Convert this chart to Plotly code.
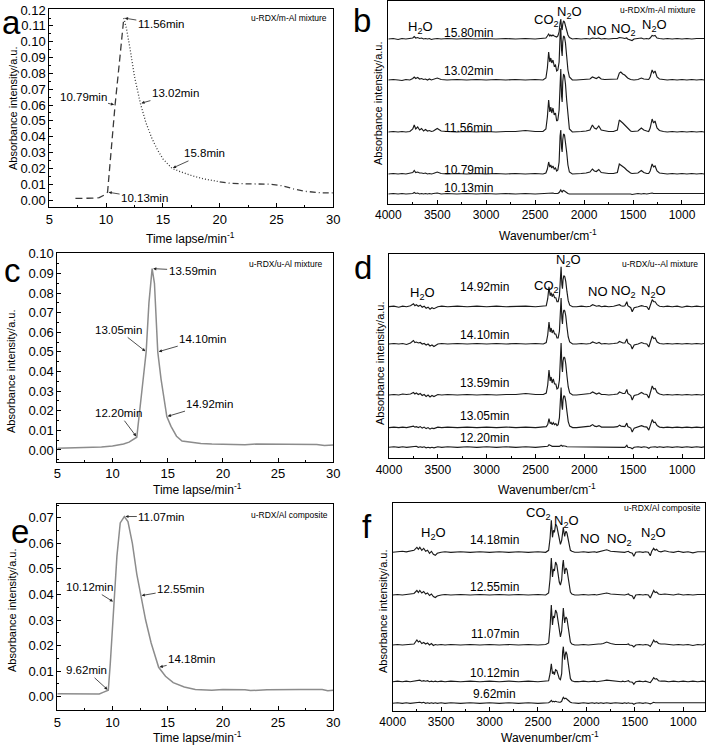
import plotly.graph_objects as go

W, H = 709, 749
FONT = "Liberation Sans, Arial, sans-serif"

# ---------------- data: evolved-gas intensity vs time ----------------
A_T = [7.3, 8.0, 8.8, 9.4, 9.8, 10.13, 10.45, 10.79, 11.2, 11.56,
       11.8, 12.1, 12.5, 13.02, 13.5, 14.0, 14.5, 15.0, 15.8, 16.5,
       17.5, 18.5, 20.0, 21.0, 22.5, 24.5, 25.5, 26.5, 27.5, 29.0, 30.0]
A_V = [0.0010, 0.0010, 0.0012, 0.0015, 0.0030, 0.0050, 0.0320, 0.0600, 0.0890, 0.1150,
       0.1080, 0.0960, 0.0780, 0.0610, 0.0490, 0.0395, 0.0320, 0.0260, 0.0200, 0.0180,
       0.0155, 0.0135, 0.0115, 0.0105, 0.0102, 0.0100, 0.0090, 0.0070, 0.0055, 0.0045, 0.0045]

C_T = [5, 7.5, 9, 10, 11, 11.5, 12.2, 12.6, 12.9, 13.05,
       13.3, 13.59, 13.8, 14.0, 14.1, 14.4, 14.92, 15.3, 15.8, 16.3,
       17, 18, 19, 20, 22, 23, 25, 27, 28.5, 29.2, 30]
C_V = [0.0008, 0.0010, 0.0015, 0.0020, 0.0030, 0.0040, 0.0065, 0.0270, 0.0430, 0.0500,
       0.0750, 0.0925, 0.0850, 0.0620, 0.0500, 0.0360, 0.0170, 0.0120, 0.0070, 0.0045,
       0.0040, 0.0033, 0.0030, 0.0028, 0.0027, 0.0030, 0.0030, 0.0030, 0.0028, 0.0023, 0.0025]

E_T = [5, 7, 8.8, 9.2, 9.62, 9.8, 10.0, 10.12, 10.4, 10.7,
       11.07, 11.4, 11.8, 12.2, 12.55, 13.0, 13.5, 14.18, 14.8, 15.5,
       16.5, 17.5, 19, 20, 22, 22.5, 24, 25, 27, 29, 29.5, 30]
E_V = [0.0012, 0.0012, 0.0011, 0.0018, 0.0025, 0.0130, 0.0280, 0.0370, 0.0550, 0.0680,
       0.0705, 0.0685, 0.0600, 0.0480, 0.0395, 0.0300, 0.0210, 0.0115, 0.0080, 0.0055,
       0.0038, 0.0028, 0.0025, 0.0028, 0.0027, 0.0024, 0.0027, 0.0028, 0.0028, 0.0028, 0.0023, 0.0025]

A_MARKS = ["10.13min", "10.79min", "11.56min", "13.02min", "15.8min"]
A_MARK_T = [10.13, 10.79, 11.56, 13.02, 15.8]
A_MARK_V = [0.0050, 0.0600, 0.1150, 0.0610, 0.0200]
C_MARKS = ["12.20min", "13.05min", "13.59min", "14.10min", "14.92min"]
C_MARK_T = [12.2, 13.05, 13.59, 14.1, 14.92]
C_MARK_V = [0.0065, 0.0500, 0.0925, 0.0500, 0.0170]
E_MARKS = ["9.62min", "10.12min", "11.07min", "12.55min", "14.18min"]
E_MARK_T = [9.62, 10.12, 11.07, 12.55, 14.18]
E_MARK_V = [0.0025, 0.0370, 0.0705, 0.0395, 0.0115]

# ---------------- data: FTIR spectra (wavenumber grid) ----------------
WN_HIGH = [4000, 3950, 3900, 3860, 3820, 3780, 3750, 3735, 3720, 3700, 3680, 3660, 3640, 3620, 3600,
           3580, 3560, 3540, 3500, 3460, 3400, 3300, 3200, 3100, 3000, 2900, 2800, 2700, 2600, 2500, 2420]
WN_BAND = [2390, 2375, 2362, 2350, 2340, 2330, 2318, 2305, 2292, 2280, 2268, 2255, 2245, 2238, 2230,
           2224, 2218, 2210, 2200, 2190, 2178, 2165, 2150, 2120]
WN_LOW = [2080, 2030, 1980, 1940, 1915, 1895, 1875, 1850, 1825, 1790, 1750, 1700, 1660, 1640, 1625,
          1605, 1585, 1565, 1555, 1525, 1510, 1490, 1450, 1415, 1390, 1360, 1340, 1325, 1305, 1290,
          1275, 1255, 1230, 1190, 1150, 1100, 1050, 1000, 950, 900, 850, 800, 775]
WN = WN_HIGH + WN_BAND + WN_LOW

# panel b (u-RDX/m-Al mixture): trace heights above each baseline
B_LABELS = ["15.80min", "13.02min", "11.56min", "10.79min", "10.13min"]
B_BASE = [165, 124, 72, 30, 10]
B_1580 = [0,0.5,-0.5,0.5,0,0.5,1,2.5,1,1.5,0.5,1,0,0.5,0,0.5,-0.5,0,0.5,0,0.5,0,0.5,0,0.5,0,0.5,0,0.5,0,0.5,
          1,3,5,3,4,3,4,3,2.5,2,3,7,16,20,11,9,15,18,17,13,8,4,1.5,0,
          0.5,0,0.5,0,1,0.5,0.5,1,0,0.5,0,0.5,0.5,1.5,1,1,0.5,1,0,-0.5,-1.5,0,0.5,1,0,0.5,0,1,3.5,3,3.5,1,0.5,0,0.5,0,0.5,0,0.5,0,0.5,0,0.5]
B_1302 = [0,0.5,0,-0.5,0.5,0,1.5,3,1.5,2.5,1,1.5,0.5,1,0,1,0,0.5,2,0.5,0,0.5,0,0.5,0,0.5,0,0.5,0,0.5,0,
          2,12,28,18,22,17,20,14,15,9,10,18,45,52,30,24,38,44,43,37,24,10,3,0,
          0,0.5,0.5,1,3,2,1.5,3,1,0.5,0.5,0.5,1,7,8,6,5,3,2,0.5,0,0,0.5,2,1,0.5,0.5,3,10,7,9,3,1,0.5,0,0.5,0,0.5,0,0.5,0,0.5,0]
B_1156 = [0,0.5,0,0.5,0,0.5,3,7,3,5,2,3.5,1,2.5,1,1.5,0.5,1,3.5,1,0.5,0,0.5,0,0.5,0,0.5,0.5,1.5,0.5,0.5,
          3,15,32,20,25,19,24,17,19,11,12,22,55,63,36,30,50,58,56,48,32,14,3,0,
          0,0.5,1,2,7,4,3,6,2,1,0.5,0.5,2,12,11,9,7,5,3,1,0.5,0.5,1,4,2,1,0.5,4,13,9,11,4,1.5,0.5,0,0.5,0,0.5,0,0.5,0,0.5,0]
B_1079 = [0,0.5,0,0.5,0,0.5,1.5,3.5,1.5,2,1,1,0.5,1,0,0.5,0,0.5,2,0.5,0,0.5,0,0.5,0,0.5,0,0.5,0,0.5,0,
          1,5,12,7,9,6,8,5,6,3,4,12,38,44,26,22,34,40,39,33,22,9,2,0,
          0,0.5,1,2,5,3,2.5,4.5,1.5,1,0.5,0.5,1.5,10,9,7,6,4,3,1,0.5,0.5,1,3.5,1.5,0.5,0.5,3,10,7,8,3,1,0.5,0,0.5,0,0.5,0,0.5,0,0.5,0]
B_1013 = [0,0.5,0,0.5,0,0.5,0.5,1.5,0.5,1,0,0.5,0,0.5,0,0.5,0,0.5,1,0,0.5,0,0.5,0,0.5,0,0.5,0,0.5,0,0.5,
          0.5,0.5,1,0.5,1,0.5,1,0.5,0.5,0.5,0.5,1.5,3.5,4,2.5,2,3,3.5,3,2,1,0.5,0,0,
          0,0.5,0,0.5,0.5,0.5,0,0.5,0,0.5,0,0.5,0,0.5,0.5,0.5,0,0.5,0,0,-0.5,0,0.5,0,0.5,0,0.5,0.5,1,0.5,0.5,0,0.5,0,0.5,0,0.5,0,0.5,0,0.5,0,0.5]
B_SPECTRA = [B_1580, B_1302, B_1156, B_1079, B_1013]

# panel d (u-RDX/u-Al mixture)
D_LABELS = ["14.92min", "14.10min", "13.59min", "13.05min", "12.20min"]
D_BASE = [151.6, 114.3, 63.3, 30.7, 11]
D_1492 = [0,0.5,-0.5,0.5,0,1,3,1,2,0.5,1.5,-0.5,0.5,-1.5,-0.5,-2.5,-1,-2,0,0.5,0,0.5,0,0.5,0,0.5,0,0.5,0.5,0,0.5,
          1,8,20,11,14,10,13,9,9,5,5,11,34,40,22,18,27,31,30,25,15,6,1.5,0,
          0,0.5,0,0.5,2,1,0.5,1,0,0.5,0,0.5,1,2,1,0.5,1,5,1,-1,-5,-1,0,1,0.5,0,-3,1,7,5,5,2,0.5,0,0.5,0,0.5,-0.5,0.5,0,0.5,0,0.5]
D_1410 = [0,0.5,0,0.5,-0.5,1,3.5,1.5,2,1,1.5,0,0.5,-1,0,-2,-1,-2.5,0,0.5,0,0.5,0,0.5,0,0.5,0,0.5,0,0.5,0,
          1.5,9,22,12,16,11,14,10,10,6,6,13,40,46,25,20,30,34,33,28,17,7,2,0,
          0,0.5,0,0.5,2,1,0.5,1.5,0,0.5,0,0.5,1,2.5,1.5,1,1,5,1,-1,-5,-1,0,1.5,0.5,0,-3,1,8,5.5,6,2,0.5,0,0.5,0,0.5,0,0.5,0,0.5,0,0.5]
D_1359 = [0,0.5,0,1,0.5,1,2.5,1,2,0.5,1.5,-0.5,0.5,-1.5,0,-2,-0.5,-1.5,0.5,0,0.5,0,0.5,0,0.5,0,0.5,0.5,1.5,0.5,0.5,
          2,10,25,14,18,12,16,11,11,6,7,15,45,52,29,23,34,38,37,31,19,8,2,0,
          0,0.5,1,1.5,3,2,1,2,0.5,0.5,0,0.5,1,3,2,1.5,1.5,5.5,1.5,-0.5,-5,-0.5,0.5,2.5,1,0.5,-3,1.5,9,6,6.5,2.5,1,0,0.5,0,0.5,0,0.5,0,0.5,0,0.5]
D_1305 = [0,0.5,0,0.5,0,0.5,1.5,0.5,1,0,1,-0.5,0.5,-1,0,-1.5,-0.5,-1,0.5,0,0.5,0,0.5,0,0.5,0,0.5,0,0.5,0,0.5,
          1,3,9,4,5,3,5,3,4,2,3,10,34,40,22,18,28,32,31,26,16,6,1.5,0,
          0,0.5,0.5,1.5,3,1.5,1,2,0.5,0.5,0,0.5,1,2.5,1.5,1,1,4.5,1,-0.5,-4.5,-0.5,0.5,2,1,0.5,-2.5,1.5,8,5,5.5,2,0.5,0,0.5,0,0.5,0,0.5,0,0.5,0,0.5]
D_1220 = [0,0.5,0,0.5,0,0.5,1,0.5,1,0,0.5,0,0.5,-0.5,0,-0.5,0,-0.5,0.5,0,0.5,0,0.5,0,0.5,0,0.5,0,0.5,0,0.5,
          0.5,1,2.5,1.5,1.5,1,1,0.5,0.5,0.5,0.5,1,1.5,2,1.5,1,1.5,1.5,1,1,0.5,0.5,0,0,
          0,0.5,0,0.5,0.5,0.5,0,0.5,0,0.5,0,0.5,0,0.5,0,0.5,0,2,0,-0.5,-1.5,0,0.5,0,0.5,0,-1,0,0.5,0.5,0.5,0,0.5,0,0.5,0,0.5,0,0.5,0,0.5,0,0.5]
D_SPECTRA = [D_1492, D_1410, D_1359, D_1305, D_1220]

# panel f (u-RDX/Al composite)
F_LABELS = ["14.18min", "12.55min", "11.07min", "10.12min", "9.62min"]
F_BASE = [158.4, 115.7, 65.7, 29, 7.4]
F_1418 = [0,0.5,1,0.5,1.5,2,5,3,5,2,4,1,2,-1,1,-2,-3,-1,0,0.5,0,0.5,0,0.5,0,0.5,0,0.5,0,0.5,0,
          2,14,32,15,22,20,28,26,18,11,8,12,22,25,19,16,19,21,19,14,7,2,1,0,
          0,0.5,0,0.5,0.5,0,0.5,1,1,2.5,1,0.5,0.5,0,0.5,0,0.5,1,0,-1,-4,0,0.5,0,0.5,0,-3.5,1,4,2,3,1,0.5,1.5,0.5,0,1,0,0.5,-0.5,0.5,0,0.5]
F_1255 = [0,0.5,0,0.5,1,1.5,4.5,2.5,4.5,2,3.5,1,2,-0.5,1,-1.5,-2.5,-1,0,0.5,0,0.5,0,0.5,0,0.5,0,0.5,0,0.5,0,
          2,16,37,18,26,24,33,30,21,13,10,15,30,35,26,21,25,27,25,18,9,3,1,0,
          0,0.5,0,0.5,0.5,0,0.5,1,1,2,1,0.5,0.5,0,0.5,0,0.5,1,0,-1,-4,0,0.5,0,0.5,0,-3,1,4.5,2.5,3,1,0.5,1,0.5,0,1,0,0.5,0,0.5,0,0.5]
F_1107 = [0,0.5,0,0.5,0.5,1,5,3,4,1.5,2.5,1,2,0,1.5,-0.5,0.5,0,0.5,0,0.5,0,0.5,0,0.5,0,0.5,0,0.5,0,0.5,
          2,18,40,20,29,27,35,32,22,12,8,14,32,37,28,22,26,28,26,19,9,3,1,0,
          0,0.5,0,0.5,1,0.5,1,1,1.5,3,1.5,0.5,0.5,0,0.5,0,0.5,1,0,-0.5,-2,0,0.5,0,0.5,0,-1.5,1,5,3,3.5,1.5,1,1,0.5,0,0.5,0,0.5,-0.5,0.5,0,1]
F_1012 = [0,0.5,0,0.5,0,0.5,1.5,1,1.5,0.5,1,0.5,1,0,0.5,0,0.5,0,0.5,0,0.5,0,0.5,0,0.5,0,0.5,0,0.5,0,0.5,
          1,8,18,8,10,7,12,11,7,3,2,8,30,35,26,22,27,30,27,20,9,3,1,0,
          0,0.5,0,0.5,0.5,0,0.5,0.5,1,1.5,1,0.5,0.5,0,0.5,0,0.5,1,0,-0.5,-2.5,0,0.5,0,0.5,0,-1,1,4,2.5,3,1,0.5,0.5,0,0.5,0,0.5,0,0.5,0,0.5,0]
F_0962 = [0,0.5,0,0.5,0,0.5,1,1.5,1,0.5,1,0,0.5,0,0.5,0,0.5,0,0.5,0,0.5,0,0.5,0,0.5,0,0.5,0,0.5,0,0.5,
          0.5,1.5,3,1.5,2,1.5,2,1.5,1,1,1,2,4.5,6,5,4.5,5,5,4,3,1.5,1,0.5,0,
          0,0.5,0,0.5,0,0.5,0,0.5,0,0.5,0,0.5,0,0.5,0,0.5,0,0.5,0,0,-1,0,0.5,0,0.5,0,-0.5,0,1,0.5,0.5,0,0.5,0,0.5,0,0.5,0,0.5,0,0.5,0,0.5]
F_SPECTRA = [F_1418, F_1255, F_1107, F_1012, F_0962]

for s in B_SPECTRA + D_SPECTRA + F_SPECTRA:
    assert len(s) == len(WN), len(s)

# ---------------- layout helpers ----------------
def fx(p):
    return p / W


def fy(p):
    return 1 - p / H


# plot boxes in pixels: (left, right, top, bottom)
BOX = {
    1: (49.3, 333.3, 9.3, 207.3),
    2: (388.3, 704.0, 1.0, 204.0),
    3: (57.3, 333.3, 253.3, 461.7),
    4: (389.0, 704.0, 254.3, 458.3),
    5: (57.3, 333.3, 504.0, 710.0),
    6: (392.7, 705.0, 503.3, 710.7),
}

fig = go.Figure()


def base_axis(fs):
    return dict(showline=True, linecolor="black", linewidth=1, mirror=True, automargin=False,
                ticks="inside", ticklen=4, tickwidth=1, tickcolor="black",
                showgrid=False, zeroline=False, tickfont=dict(family=FONT, size=fs, color="black"))


layout = dict(width=W, height=H, autosize=False, margin=dict(l=0, r=0, t=0, b=0, pad=0),
              paper_bgcolor="white", plot_bgcolor="white", showlegend=False)

TIME_YR = {1: [-0.0046, 0.1205], 3: [-0.006, 0.1003], 5: [-0.0052, 0.0754]}
SPEC_YR = {2: [0, 203], 4: [0, 204], 6: [0, 207.4]}

for i in range(1, 7):
    l, r, t, b = BOX[i]
    fs = 13 if i in TIME_YR else 12
    xa = base_axis(fs)
    ya = base_axis(fs)
    xa.update(domain=[fx(l), fx(r)], anchor="y" if i == 1 else f"y{i}")
    ya.update(domain=[fy(b), fy(t)], anchor="x" if i == 1 else f"x{i}")
    if i in TIME_YR:
        xa.update(range=[5, 30], tickvals=[5, 10, 15, 20, 25, 30],
                  minor=dict(ticks="inside", ticklen=2, dtick=2.5, tickcolor="black"))
        ya.update(range=TIME_YR[i], dtick=0.01, tick0=0, tickformat=".2f",
                  minor=dict(ticks="inside", ticklen=2, dtick=0.005, tickcolor="black"))
    else:
        xa.update(range=[4000, 775], tickvals=[4000, 3500, 3000, 2500, 2000, 1500, 1000],
                  minor=dict(ticks="inside", ticklen=2, tickvals=[3750, 3250, 2750, 2250, 1750, 1250], tickcolor="black"))
        ya.update(range=SPEC_YR[i], showticklabels=False, ticks="")
    layout["xaxis" if i == 1 else f"xaxis{i}"] = xa
    layout["yaxis" if i == 1 else f"yaxis{i}"] = ya

fig.update_layout(**layout)

# ---------------- panel a (segmented dashed line) ----------------
i_pk = A_T.index(11.56)
i_tl = A_T.index(20.0)
seg_styles = [(0, i_pk + 1, "7px,4px"), (i_pk, i_tl + 1, "1px,2px"), (i_tl, len(A_T), "6px,3px,1px,3px")]
for s0, s1, d in seg_styles:
    fig.add_trace(go.Scatter(x=A_T[s0:s1], y=A_V[s0:s1], mode="lines", xaxis="x", yaxis="y",
                             line=dict(color="#3a3a3a", width=1.3, dash=d), hoverinfo="skip"))

fig.add_trace(go.Scatter(x=C_T, y=C_V, mode="lines", xaxis="x3", yaxis="y3",
                         line=dict(color="#8c8c8c", width=1.5)))
fig.add_trace(go.Scatter(x=E_T, y=E_V, mode="lines", xaxis="x5", yaxis="y5",
                         line=dict(color="#8c8c8c", width=1.5)))

# ---------------- spectra ----------------
for axn, spectra, bases in [(2, B_SPECTRA, B_BASE), (4, D_SPECTRA, D_BASE), (6, F_SPECTRA, F_BASE)]:
    for s, b0 in zip(spectra, bases):
        fig.add_trace(go.Scatter(x=WN, y=[b0 + v for v in s], mode="lines",
                                 xaxis=f"x{axn}", yaxis=f"y{axn}",
                                 line=dict(color="#1a1a1a", width=1.15)))

ann = []

# arrow annotations on time curves
ARROW_OFF = {
    1: [(37, 6), (-32, -8), (37, 6), (35, -10), (33, -15)],
    3: [(-18, -24), (-28, -22), (40, 2), (45, -13), (43, -13)],
    5: [(-22, -20), (-24, -15), (37, 0), (40, -7), (33, -8)],
}
for axn, labels, ts, vs in [(1, A_MARKS, A_MARK_T, A_MARK_V), (3, C_MARKS, C_MARK_T, C_MARK_V),
                            (5, E_MARKS, E_MARK_T, E_MARK_V)]:
    xr = "x" if axn == 1 else f"x{axn}"
    yr = "y" if axn == 1 else f"y{axn}"
    for (lab, t, v), (ax, ay) in zip(zip(labels, ts, vs), ARROW_OFF[axn]):
        ann.append(dict(x=t, y=v, xref=xr, yref=yr, text=lab, showarrow=True, ax=ax, ay=ay,
                        arrowhead=2, arrowsize=0.8, arrowwidth=0.8, arrowcolor="#222",
                        standoff=1, font=dict(family=FONT, size=11.5, color="black")))

# spectrum time labels
LABEL_WN = {2: 3184, 4: 3018, 6: 2944}
LABEL_Y = {2: [170.7, 133.3, 75.7, 34, 15.7], 4: [171.6, 123.3, 75, 42.6, 20],
           6: [170.7, 124, 76.7, 37.4, 16.7]}
for axn, labels in [(2, B_LABELS), (4, D_LABELS), (6, F_LABELS)]:
    for lab, yv in zip(labels, LABEL_Y[axn]):
        ann.append(dict(x=LABEL_WN[axn], y=yv, xref=f"x{axn}", yref=f"y{axn}", text=lab,
                        showarrow=False, font=dict(family=FONT, size=12, color="black")))

# species labels
SPECIES = {
    2: [("H<sub>2</sub>O", 3669, 177), ("CO<sub>2</sub>", 2384, 184), ("N<sub>2</sub>O", 2146, 192),
        ("NO", 1873, 174), ("NO<sub>2</sub>", 1602, 175), ("N<sub>2</sub>O", 1279, 179)],
    4: [("H<sub>2</sub>O", 3652, 165), ("CO<sub>2</sub>", 2386, 172), ("N<sub>2</sub>O", 2165, 198),
        ("NO", 1858, 167), ("NO<sub>2</sub>", 1602, 167), ("N<sub>2</sub>O", 1295, 167)],
    6: [("H<sub>2</sub>O", 3581, 177), ("CO<sub>2</sub>", 2498, 197), ("N<sub>2</sub>O", 2204, 189),
        ("NO", 1964, 172), ("NO<sub>2</sub>", 1654, 171), ("N<sub>2</sub>O", 1311, 177)],
}
for axn, items in SPECIES.items():
    for txt, xv, yv in items:
        ann.append(dict(x=xv, y=yv, xref=f"x{axn}", yref=f"y{axn}", text=txt, showarrow=False,
                        font=dict(family=FONT, size=13, color="black")))

# sample names (top-right inside each box)
SAMPLES = [("u-RDX/m-Al mixture", 329, 18), ("u-RDX/m-Al mixture", 698, 10),
           ("u-RDX/u-Al mixture", 324, 264), ("u-RDX/u--Al mixture", 700, 264),
           ("u-RDX/Al composite", 330, 515), ("u-RDX/Al composite", 703, 508)]
for txt, xp, yp in SAMPLES:
    ann.append(dict(x=fx(xp), y=fy(yp), xref="paper", yref="paper", text=txt, showarrow=False,
                    xanchor="right", yanchor="middle", font=dict(family=FONT, size=8.5, color="black")))

# panel letters (top of text box in pixels)
LETTERS = [("a", 11, 2), ("b", 362, 0), ("c", 12, 250), ("d", 363, 247), ("e", 20, 511), ("f", 367, 506)]
for txt, xp, yp in LETTERS:
    ann.append(dict(x=fx(xp), y=fy(yp), xref="paper", yref="paper", text=txt, showarrow=False,
                    xanchor="center", yanchor="top", font=dict(family=FONT, size=33, color="black")))

# axis titles
YT = [(13, 108), (378, 103), (11, 371), (380, 363), (12, 610), (383, 611)]
for xp, yp in YT:
    ann.append(dict(x=fx(xp), y=fy(yp), xref="paper", yref="paper", text="Absorbance intensity/a.u.",
                    showarrow=False, textangle=-90, xanchor="center", yanchor="middle",
                    font=dict(family=FONT, size=11, color="black")))
XT = [("Time lapse/min<sup>-1</sup>", 190, 238), ("Wavenumber/cm<sup>-1</sup>", 548, 235),
      ("Time lapse/min<sup>-1</sup>", 197, 489), ("Wavenumber/cm<sup>-1</sup>", 547, 489),
      ("Time lapse/min<sup>-1</sup>", 197, 737), ("Wavenumber/cm<sup>-1</sup>", 550, 737)]
for txt, xp, yp in XT:
    ann.append(dict(x=fx(xp), y=fy(yp), xref="paper", yref="paper", text=txt, showarrow=False,
                    xanchor="center", yanchor="middle", font=dict(family=FONT, size=12, color="black")))

fig.update_layout(annotations=ann)
fig.write_html("out.html", config={"displayModeBar": False, "staticPlot": True},
               post_script="document.body.style.margin='0';document.body.style.overflow='hidden';")
